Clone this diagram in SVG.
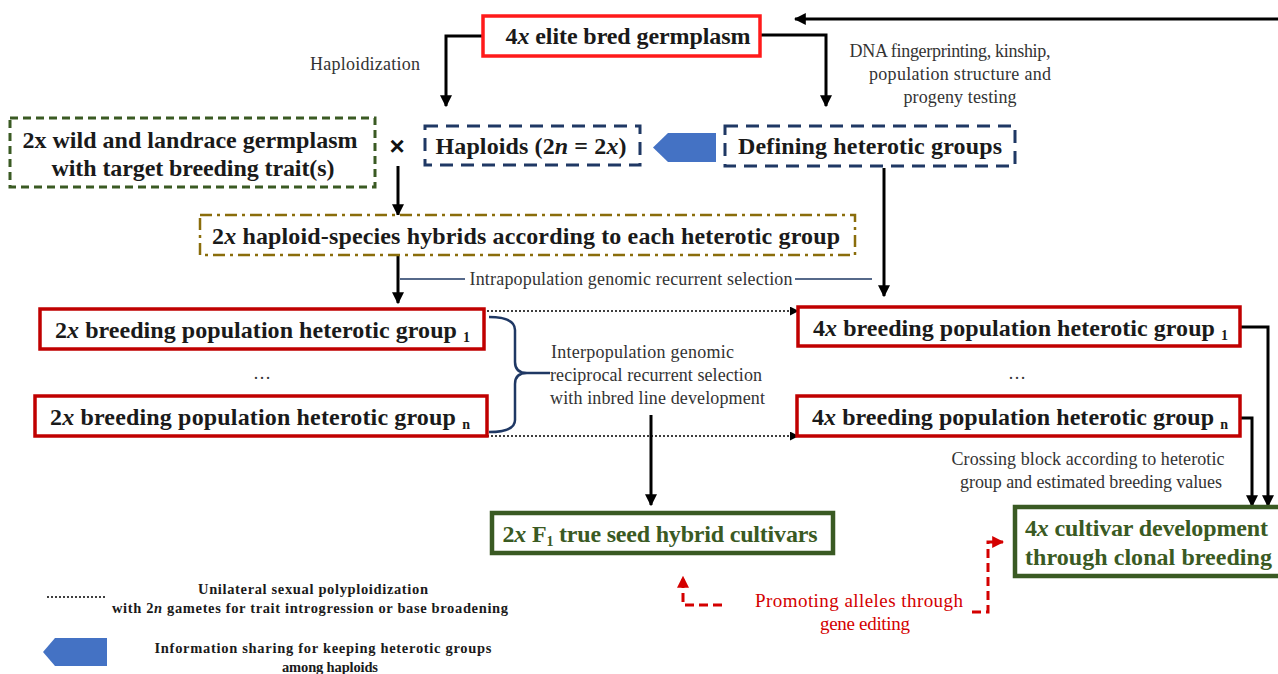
<svg xmlns="http://www.w3.org/2000/svg" width="1278" height="674" viewBox="0 0 1278 674">
<style>
.t{font-family:"Liberation Serif","Times New Roman",serif;}
.nd{font-size:24px;font-weight:bold;fill:#1a1a1a;}
.gn{fill:#3a5a23;}
.lb{font-size:18px;fill:#333;}
.lg{font-size:14.5px;font-weight:bold;fill:#1a1a1a;}
.m{text-anchor:middle;}
.s{text-anchor:start;}
.sub{font-size:14px;}
.rt{fill:#d40000;font-size:19px;}
.red1{fill:#fff;stroke:#ff1a1a;stroke-width:3.5;}
.red2{fill:#fff;stroke:#c00000;stroke-width:3.5;}
.navy{fill:#fff;stroke:#1f3864;stroke-width:3;stroke-dasharray:13,8;}
.gd{fill:#fff;stroke:#3a5a23;stroke-width:3;stroke-dasharray:8,5;}
.gold{fill:#fff;stroke:#8a6d0b;stroke-width:2.5;stroke-dasharray:12,5,3,5;}
.green{fill:#fff;stroke:#3a5a23;stroke-width:4.5;}
.ar{fill:none;stroke:#000;stroke-width:3;}
.dot{fill:none;stroke:#000;stroke-width:1.5;stroke-dasharray:2,2;}
.rd{fill:none;stroke:#d40000;stroke-width:3;stroke-dasharray:9,5;}
.bl{fill:#4472c4;}
</style>
<defs>
<marker id="ah" viewBox="0 0 10 10" refX="9" refY="5" markerWidth="4" markerHeight="4" orient="auto" markerUnits="strokeWidth"><path d="M0,0 L10,5 L0,10 z" fill="#000"/></marker>
<marker id="ahs" viewBox="0 0 10 10" refX="9" refY="5" markerWidth="6" markerHeight="6" orient="auto" markerUnits="strokeWidth"><path d="M0,0 L10,5 L0,10 z" fill="#000"/></marker>
<marker id="ahr" viewBox="0 0 10 10" refX="9" refY="5" markerWidth="4" markerHeight="4" orient="auto" markerUnits="strokeWidth"><path d="M0,0 L10,5 L0,10 z" fill="#d40000"/></marker>
</defs>

<g id="connectors">
<path class="ar" d="M483,36 H446 V106" marker-end="url(#ah)"/>
<path class="ar" d="M760,35 H826 V106" marker-end="url(#ah)"/>
<path class="ar" d="M1278,19 H795" marker-end="url(#ah)"/>
<path class="ar" d="M398,166 V215" marker-end="url(#ah)"/>
<path class="ar" d="M398,256 V303" marker-end="url(#ah)"/>
<path class="ar" d="M884,168 V296" marker-end="url(#ah)"/>
<path fill="none" stroke="#1f3864" stroke-width="1.5" d="M400,279 H465 M795,279 H872"/>
<path fill="none" stroke="#1f3864" stroke-width="2.5" d="M489,317 Q515,317 515,330 V362 Q515,373 527,373 H550 M527,373 Q515,373 515,384 V420 Q515,432 489,432"/>
<path class="dot" d="M487,311 H798" marker-end="url(#ahs)"/>
<path class="dot" d="M487,436 H798" marker-end="url(#ahs)"/>
<path class="ar" d="M651,415 V505" marker-end="url(#ah)"/>
<path class="ar" d="M1240,327 H1268 V506" marker-end="url(#ah)"/>
<path class="ar" d="M1240,418 H1252 V506" marker-end="url(#ah)"/>
<path class="rd" d="M722,605 H683 V577" marker-end="url(#ahr)"/>
<path class="rd" d="M972,612 H988 V542 H1003" marker-end="url(#ahr)"/>
</g>

<g id="elite">
<rect class="red1" x="483" y="16" width="277" height="40"/>
<text class="t nd m" x="628" y="44" textLength="245">4<tspan font-style="italic">x</tspan> elite bred germplasm</text>
</g>
<g id="lbl-haploidization"><text class="t lb m" x="365" y="70" textLength="110">Haploidization</text></g>
<g id="lbl-dna">
<text class="t lb m" x="950" y="57" textLength="201">DNA fingerprinting, kinship,</text>
<text class="t lb m" x="960" y="80" textLength="182">population structure and</text>
<text class="t lb m" x="960" y="103" textLength="113">progeny testing</text>
</g>
<g id="wild">
<rect class="gd" x="10" y="118" width="365" height="69"/>
<text class="t nd m" x="190" y="148" textLength="335">2x wild and landrace germplasm</text>
<text class="t nd m" x="193" y="176" textLength="283">with target breeding trait(s)</text>
</g>
<g id="cross"><text x="397" y="155" font-family="Liberation Sans, Arial, sans-serif" font-size="26" font-weight="bold" text-anchor="middle" fill="#111">×</text></g>
<g id="haploids">
<rect class="navy" x="425" y="126" width="215" height="39"/>
<text class="t nd m" x="531" y="154" textLength="191">Haploids (2<tspan font-style="italic">n</tspan> = 2<tspan font-style="italic">x</tspan>)</text>
</g>
<g id="share-arrow"><polygon class="bl" points="716,133 716,162 668,162 653,147.5 668,133"/></g>
<g id="defining">
<rect class="navy" x="725" y="126" width="290" height="40"/>
<text class="t nd m" x="870" y="154" textLength="264">Defining heterotic groups</text>
</g>
<g id="hybrids">
<rect class="gold" x="200" y="215" width="655" height="40"/>
<text class="t nd m" x="526" y="244" textLength="628">2<tspan font-style="italic">x</tspan> haploid-species hybrids according to each heterotic group</text>
</g>
<g id="lbl-intra"><text class="t lb m" x="631" y="285" textLength="323">Intrapopulation genomic recurrent selection</text></g>
<g id="bp2x1">
<rect class="red2" x="40" y="309" width="444" height="40"/>
<text class="t nd s" x="55" y="338" textLength="415">2<tspan font-style="italic">x</tspan> breeding population heterotic group <tspan class="sub" dy="4">1</tspan></text>
</g>
<g id="dots2x"><text class="t lb m" x="262" y="379">…</text></g>
<g id="bp2xn">
<rect class="red2" x="35" y="396" width="452" height="40"/>
<text class="t nd s" x="50" y="425" textLength="420">2<tspan font-style="italic">x</tspan> breeding population heterotic group <tspan class="sub" dy="4">n</tspan></text>
</g>
<g id="lbl-inter">
<text class="t lb s" x="551" y="358" textLength="183">Interpopulation genomic</text>
<text class="t lb s" x="550" y="381" textLength="212">reciprocal recurrent selection</text>
<text class="t lb s" x="550" y="404" textLength="215">with inbred line development</text>
</g>
<g id="bp4x1">
<rect class="red2" x="798" y="307" width="442" height="39"/>
<text class="t nd s" x="813" y="336" textLength="415">4<tspan font-style="italic">x</tspan> breeding population heterotic group <tspan class="sub" dy="4">1</tspan></text>
</g>
<g id="dots4x"><text class="t lb m" x="1017" y="379">…</text></g>
<g id="bp4xn">
<rect class="red2" x="797" y="396" width="443" height="40"/>
<text class="t nd s" x="812" y="425" textLength="416">4<tspan font-style="italic">x</tspan> breeding population heterotic group <tspan class="sub" dy="4">n</tspan></text>
</g>
<g id="lbl-crossing">
<text class="t lb m" x="1088" y="465" textLength="273">Crossing block according to heterotic</text>
<text class="t lb m" x="1091" y="488" textLength="262">group and estimated breeding values</text>
</g>
<g id="f1">
<rect class="green" x="492" y="513" width="341" height="40"/>
<text class="t nd gn m" x="660" y="542" textLength="315">2<tspan font-style="italic">x</tspan> F<tspan class="sub" dy="4">1</tspan><tspan dy="-4"> true seed hybrid cultivars</tspan></text>
</g>
<g id="cultivar">
<rect class="green" x="1015" y="507" width="275" height="69"/>
<text class="t nd gn s" x="1025" y="536" textLength="243">4<tspan font-style="italic">x</tspan> cultivar development</text>
<text class="t nd gn s" x="1025" y="565" textLength="247">through clonal breeding</text>
</g>
<g id="lbl-editing">
<text class="t lb m rt" x="859" y="607" textLength="208">Promoting alleles through</text>
<text class="t lb m rt" x="865" y="630" textLength="90">gene editing</text>
</g>
<g id="legend">
<path class="dot" d="M47,597 H107"/>
<text class="t lg m" x="313" y="594" textLength="230">Unilateral sexual polyploidization</text>
<text class="t lg m" x="310" y="613" textLength="396">with 2<tspan font-style="italic">n</tspan> gametes for trait introgression or base broadening</text>
<polygon class="bl" points="107,638 107,666 55,666 43,652 55,638"/>
<text class="t lg m" x="323" y="653" textLength="337">Information sharing for keeping heterotic groups</text>
<text class="t lg m" x="330" y="672" textLength="96">among haploids</text>
</g>
</svg>
